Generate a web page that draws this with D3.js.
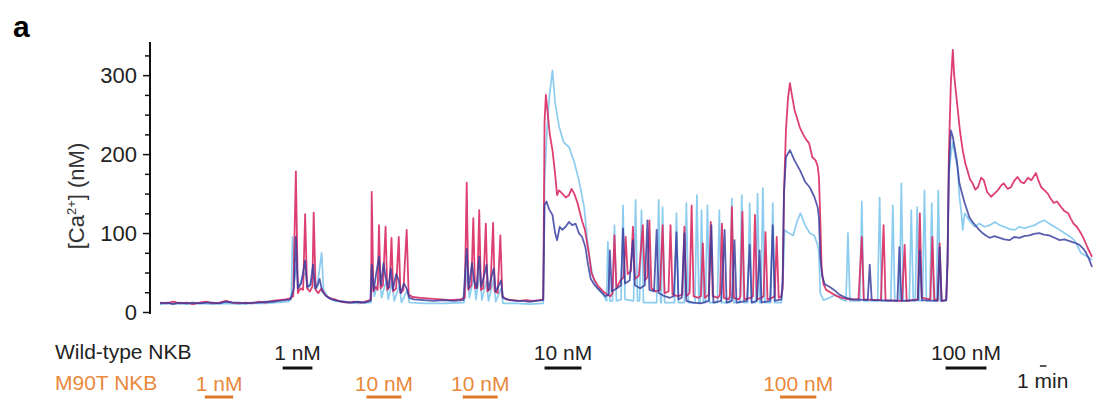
<!DOCTYPE html>
<html>
<head>
<meta charset="utf-8">
<script src="https://cdn.jsdelivr.net/npm/d3@7"></script>
<style>
  body { margin: 0; background: #fff; }
  svg { display: block; font-family: "Liberation Sans", Arial, Helvetica, sans-serif; }
</style>
</head>
<body>
<svg id="chart" width="1098" height="401"></svg>
<script>
// y axis ticks (nM)
const yMajor = [0, 100, 200, 300];
const yMinor = [25, 50, 75, 125, 150, 175, 225, 250, 275, 325];

// [time (min), Ca2+ (nM)]
const traceRed = [
  [0,12],[1,11],[2,13],[3,11],[4,12],[5,10],[6,12],[7,13],[8,11],[9,12],[10,14],[11,12],[12,11],[13,12],[14,11],[15,13],[16,12],[17,14],[18,15],[19,16],[19.6,17],
  [20.2,20],[20.6,178],[20.9,24],[21.3,30],[21.7,28],[22.0,124],[22.3,30],[22.7,26],[23.1,32],[23.3,126],[23.6,28],[24.0,24],[24.5,30],[25.0,22],[25.6,18],[26.5,16],[27.5,13],[28.5,12],[29.5,13],[30.5,12],[31.5,14],[32.0,16],
  [32.1,152],[32.35,26],[32.7,32],[33.0,28],[33.2,110],[33.45,30],[33.8,34],[34.2,108],[34.45,28],[34.8,32],[35.1,94],[35.35,26],[35.8,30],[36.2,95],[36.45,24],[36.9,28],[37.4,104],[37.7,22],[38.3,19],[39.5,18],[41,17],[42.5,16],[44,15],[45.5,16],[46.2,18],
  [46.5,164],[46.75,28],[47.2,34],[47.5,119],[47.75,30],[48.1,32],[48.4,129],[48.65,28],[49.0,30],[49.4,112],[49.65,26],[50.1,30],[50.5,113],[50.75,26],[51.2,24],[51.6,97],[51.9,20],[52.5,16],[53.5,15],[54.5,14],[55.5,15],[56.5,14],[57.5,15],[58.1,16],
  [58.3,240],[58.5,275],[58.8,250],[59.1,225],[59.5,205],[59.9,175],[60.2,148],[60.5,154],[61.0,150],[61.5,145],[62.0,148],[62.4,156],[62.8,150],[63.3,138],[63.6,128],[64.0,115],[64.4,105],[64.8,85],[65.1,70],[65.4,50],[65.9,40],[66.5,32],[67.2,26],[67.8,22],[68.3,20],
  [68.6,24],[68.9,97],[69.2,30],[69.8,40],[70.3,44],[70.6,95],[70.9,48],[71.4,52],[71.7,108],[72.0,42],[72.6,46],[73.2,110],[73.5,40],[73.9,44],[74.2,116],[74.5,30],[75.2,26],[75.8,28],[76.2,110],[76.5,24],[77.1,26],[77.4,110],[77.7,22],[78.5,20],[79.2,22],[79.5,108],[79.8,20],[80.3,24],[80.6,135],[80.9,20],[81.6,18],[82.0,20],[82.3,87],[82.6,18],[83.2,22],[83.5,114],[83.8,20],[84.6,18],[84.9,22],[85.2,112],[85.5,18],[86.2,16],[86.4,20],[86.7,133],[87.0,18],[87.8,16],[88.0,20],[88.3,127],[88.6,16],[89.5,18],[89.9,20],[90.2,123],[90.5,16],[91.2,18],[91.5,20],[91.8,101],[92.1,16],[92.8,18],[93.2,20],[93.5,95],[93.8,18],[94.2,20],
  [94.4,30],[94.6,150],[94.9,230],[95.2,270],[95.5,290],[95.8,275],[96.2,256],[96.6,245],[97.0,234],[97.5,225],[98.0,218],[98.4,214],[98.9,196],[99.4,192],[99.7,185],[99.9,171],[100.1,120],[100.3,57],[100.6,35],[101.0,28],[101.8,24],[102.6,20],[103.4,18],[104.5,16],
  [105.9,16],[106.4,95],[106.7,16],[109.3,15],[109.7,110],[110.0,15],[112.5,14],[112.9,85],[113.2,14],[114.9,16],[115.2,125],[115.5,18],[116.8,16],[117.1,95],[117.4,16],[117.9,15],[118.2,87],[118.5,14],[119.2,15],
  [119.4,60],[119.6,200],[119.9,290],[120.2,332],[120.4,300],[120.9,260],[121.3,228],[121.7,205],[122.1,188],[122.4,180],[122.8,168],[123.2,163],[123.6,155],[124.0,158],[124.5,170],[124.9,167],[125.4,152],[126.0,146],[126.5,150],[127.0,154],[127.5,160],[127.9,163],[128.5,156],[129.0,158],[129.5,166],[130.0,171],[130.5,165],[131.0,163],[131.6,170],[132.1,167],[132.8,176],[133.2,166],[133.6,158],[134.1,154],[134.6,150],[135.0,144],[135.5,138],[136.0,140],[136.6,133],[137.1,128],[137.7,125],[138.1,118],[138.5,112],[139.0,108],[139.6,100],[140.1,92],[140.6,82],[141.3,70]
];

const traceBlue = [
  [0,11],[1,12],[2,10],[3,12],[4,11],[5,12],[6,11],[7,12],[8,12],[9,11],[10,13],[11,12],[12,12],[13,11],[14,12],[15,12],[16,13],[17,13],[18,14],[19,15],[19.8,16],
  [20.3,30],[20.6,95],[20.9,30],[21.4,36],[22.0,65],[22.3,32],[22.8,34],[23.2,60],[23.5,30],[23.9,34],[24.2,42],[24.6,26],[25.2,20],[26,16],[27,14],[28,13],[29,12],[30,13],[31,12],[31.9,14],
  [32.1,60],[32.4,28],[32.8,50],[33.2,70],[33.5,34],[33.9,62],[34.2,44],[34.6,30],[35.0,55],[35.3,28],[35.8,48],[36.2,40],[36.5,24],[37.0,36],[37.4,30],[37.8,18],[38.5,16],[40,15],[41.5,14],[43,15],[44.5,14],[46.0,15],
  [46.5,80],[46.8,30],[47.3,62],[47.6,40],[48.0,30],[48.4,70],[48.7,32],[49.2,48],[49.5,60],[49.8,28],[50.3,46],[50.6,55],[50.9,26],[51.4,34],[51.7,40],[52.0,18],[53,15],[54,14],[55,14],[56,13],[57,14],[58.1,15],
  [58.3,135],[58.6,140],[59.0,130],[59.5,123],[59.9,100],[60.2,91],[60.6,108],[61.0,104],[61.5,108],[62.0,114],[62.5,110],[63.0,112],[63.5,100],[64.0,95],[64.5,82],[64.9,60],[65.3,42],[65.9,34],[66.6,28],[67.5,20],[68.0,22],
  [68.2,78],[68.5,26],[69.3,30],[69.9,34],[70.2,106],[70.5,36],[71.2,40],[71.7,91],[72.0,34],[72.8,30],[73.5,34],[73.9,116],[74.2,28],[74.9,26],[75.3,104],[75.6,24],[76.5,20],[77.3,18],[77.9,20],[78.3,101],[78.6,16],[79.1,18],[79.5,100],[79.8,14],[80.8,12],[82.0,11],[83.2,14],[83.6,110],[83.9,12],[85.1,14],[85.6,104],[85.9,12],[86.7,14],[87.1,91],[87.4,12],[89.0,14],[89.4,85],[89.7,12],[90.5,14],[90.9,78],[91.2,12],[92.5,14],[92.9,110],[93.2,14],[94.2,16],
  [94.4,40],[94.6,150],[94.9,196],[95.5,205],[96.2,192],[97.0,180],[97.8,165],[98.5,158],[99.2,146],[99.7,133],[99.9,120],[100.1,70],[100.4,45],[100.8,35],[101.5,32],[102.2,28],[103,22],[104,18],[105,16],
  [107.3,15],[107.6,60],[107.9,15],[111.8,14],[112.1,82],[112.4,14],[114.9,15],[115.2,78],[115.5,15],[117.9,14],[118.2,82],[118.5,14],[119.2,15],
  [119.4,70],[119.6,180],[119.9,230],[120.2,222],[120.8,192],[121.2,163],[121.6,150],[122.0,138],[122.4,128],[122.7,120],[123.2,114],[123.8,108],[124.2,104],[124.7,100],[125.2,97],[125.8,94],[126.5,96],[127.3,94],[128.0,92],[128.8,91],[129.5,95],[130.3,94],[131.0,96],[131.8,97],[132.5,99],[133.3,100],[134.0,98],[134.8,97],[135.6,94],[136.4,91],[137.1,92],[137.8,90],[138.6,88],[139.4,85],[140.0,80],[140.4,75],[140.9,66],[141.3,57]
];

const traceLight = [
  [0,10],[2,11],[4,10],[6,11],[8,10],[10,11],[12,10],[14,11],[16,11],[18,12],[19.5,13],
  [19.9,20],[20.1,95],[20.4,40],[20.7,60],[21.0,30],[21.6,45],[22.1,50],[22.5,30],[23.0,40],[23.4,45],[23.8,30],[24.5,75],[24.8,28],[25.4,20],[26.5,14],[28,12],[30,11],[32,12],
  [32.2,50],[32.5,20],[33.3,45],[33.6,18],[34.3,40],[34.6,16],[35.2,38],[35.5,14],[36.3,34],[36.6,12],[37.5,28],[37.8,12],[40,11],[43,11],[46.1,12],
  [46.6,55],[46.9,18],[47.6,45],[47.9,16],[48.5,50],[48.8,15],[49.5,40],[49.8,14],[50.6,42],[50.9,13],[51.7,30],[52.0,11],[54,11],[56,10],[58.1,11],
  [58.3,160],[58.6,220],[59.0,270],[59.5,306],[59.9,265],[60.5,235],[61.2,215],[62.0,209],[62.8,190],[63.5,167],[64.3,133],[64.8,91],[65.1,70],[65.6,45],[66.3,30],[67.2,22],[67.7,14],
  [67.9,89],[68.2,14],[68.6,14],[68.9,110],[69.2,14],[69.9,16],[70.2,135],[70.5,16],[71.8,14],[72.1,142],[72.4,14],[72.7,14],[73.0,129],[73.3,12],[75.3,12],[75.6,142],[75.9,12],[76.0,12],[76.2,133],[76.5,12],[78.0,12],[78.3,125],[78.6,12],[79.5,12],[79.8,138],[80.1,12],[81.1,12],[81.4,148],[81.7,12],[81.9,12],[82.1,129],[82.4,12],[82.7,12],[83.0,135],[83.3,12],[84.5,12],[84.8,129],[85.1,12],[86.4,12],[86.7,144],[87.0,12],[87.9,12],[88.2,148],[88.5,12],[89.1,12],[89.4,138],[89.7,12],[90.3,12],[90.6,150],[90.9,12],[91.1,12],[91.4,157],[91.7,12],[92.6,12],[92.9,138],[93.2,12],[94.2,12],
  [94.4,30],[94.7,104],[95.3,100],[96.0,97],[96.6,115],[97.1,125],[97.8,110],[98.5,100],[99.2,97],[99.7,85],[99.9,75],[100.1,24],[100.6,15],[101.5,18],[102.4,22],[103.3,16],
  [104.0,14],[104.3,100],[104.6,14],[106.1,14],[106.4,140],[106.7,14],[108.8,14],[109.1,145],[109.4,14],[110.8,14],[111.1,135],[111.4,14],[112.1,14],[112.4,163],[112.7,14],[113.6,14],[113.9,129],[114.2,14],[114.5,14],[114.8,133],[115.1,14],[115.6,14],[115.9,154],[116.2,14],[116.7,14],[117.0,138],[117.3,14],[117.7,14],[118.0,154],[118.3,14],[119.2,14],
  [119.4,60],[119.6,170],[119.9,200],[120.2,215],[120.6,195],[120.9,184],[121.2,146],[121.5,125],[121.7,104],[122.0,125],[122.7,116],[123.5,108],[124.2,112],[125.0,108],[125.8,110],[126.6,114],[127.3,110],[128.0,108],[128.8,105],[129.6,104],[130.3,108],[131.0,106],[131.8,108],[132.6,110],[133.4,114],[134.1,116],[134.8,112],[135.6,108],[136.4,104],[137.1,100],[137.9,96],[138.6,91],[139.1,84],[139.6,75],[140.2,72],[140.7,70],[141.3,66]
];

// stimulus bars: [label, start min, end min]
const wtStim = [['1 nM', 18.6, 23.1], ['10 nM', 58.3, 63.9], ['100 nM', 119.1, 125.3]];
const m90tStim = [['1 nM', 6.8, 11.1], ['10 nM', 31.3, 36.6], ['10 nM', 45.9, 51.2], ['100 nM', 94.0, 99.5]];

const ORANGE_TEXT = '#e8893c';
const ORANGE_BAR = '#e07a2a';

const svg = d3.select('#chart');

const x = d3.scaleLinear().domain([0, 141.3]).range([160, 1092]);
const y = d3.scaleLinear().domain([0, 342]).range([312, 42]);

// panel letter
svg.append('text')
  .attr('x', 13).attr('y', 37)
  .attr('font-size', 30).attr('font-weight', 'bold')
  .text('a');

// y axis
const axis = svg.append('g').attr('transform', 'translate(150,0)');
axis.call(d3.axisLeft(y).tickValues(yMajor).tickSize(7).tickPadding(6));
axis.append('g').call(d3.axisLeft(y).tickValues(yMinor).tickSize(5).tickFormat(''));
axis.selectAll('.domain').remove();
axis.append('line').attr('x1', 0).attr('x2', 0).attr('y1', 42).attr('y2', 314)
  .attr('stroke', '#111').attr('stroke-width', 2);
axis.selectAll('.tick line').attr('stroke', '#111').attr('stroke-width', 1.5);
axis.selectAll('.tick text')
  .attr('font-size', 22).attr('fill', '#222')
  .attr('font-family', '"Liberation Sans", Arial, sans-serif');

const ylab = svg.append('text')
  .attr('transform', 'translate(84,196) rotate(-90)')
  .attr('text-anchor', 'middle')
  .attr('font-size', 22).attr('fill', '#333');
ylab.append('tspan').text('[Ca');
ylab.append('tspan').attr('font-size', 13).attr('dy', -8).text('2+');
ylab.append('tspan').attr('dy', 8).text('] (nM)');

// traces
const line = d3.line().x(d => x(d[0])).y(d => y(d[1]));
const traces = [
  {data: traceLight, color: '#86c9ee', width: 1.7, opacity: 0.95},
  {data: traceRed, color: '#d92a62', width: 1.8, opacity: 0.9},
  {data: traceBlue, color: '#363a9c', width: 1.8, opacity: 0.82},
];
svg.append('g').selectAll('path')
  .data(traces)
  .enter().append('path')
  .attr('d', d => line(d.data))
  .attr('fill', 'none')
  .attr('stroke', d => d.color)
  .attr('stroke-width', d => d.width)
  .attr('stroke-opacity', d => d.opacity)
  .attr('stroke-linejoin', 'round');

// stimulus annotations
svg.append('text').attr('x', 55).attr('y', 359)
  .attr('font-size', 21).attr('fill', '#222').text('Wild-type NKB');
svg.append('text').attr('x', 55).attr('y', 390)
  .attr('font-size', 21).attr('fill', ORANGE_TEXT).text('M90T NKB');

function stimRow(rows, textY, barY, textColor, barColor) {
  const g = svg.append('g');
  g.selectAll('rect').data(rows).enter().append('rect')
    .attr('x', d => x(d[1]))
    .attr('width', d => x(d[2]) - x(d[1]))
    .attr('y', barY - 1.5).attr('height', 3)
    .attr('fill', barColor);
  g.selectAll('text').data(rows).enter().append('text')
    .attr('x', d => (x(d[1]) + x(d[2])) / 2)
    .attr('y', textY)
    .attr('text-anchor', 'middle')
    .attr('font-size', 21).attr('fill', textColor)
    .text(d => d[0]);
}
stimRow(wtStim, 360, 368, '#222', '#111');
stimRow(m90tStim, 391, 397, ORANGE_TEXT, ORANGE_BAR);

// 1 min scale bar
svg.append('line')
  .attr('x1', x(133.4)).attr('x2', x(134.4))
  .attr('y1', 366).attr('y2', 366)
  .attr('stroke', '#222').attr('stroke-width', 1.5);
svg.append('text').attr('x', 1017).attr('y', 388)
  .attr('font-size', 21).attr('fill', '#222').text('1 min');
</script>
</body>
</html>
